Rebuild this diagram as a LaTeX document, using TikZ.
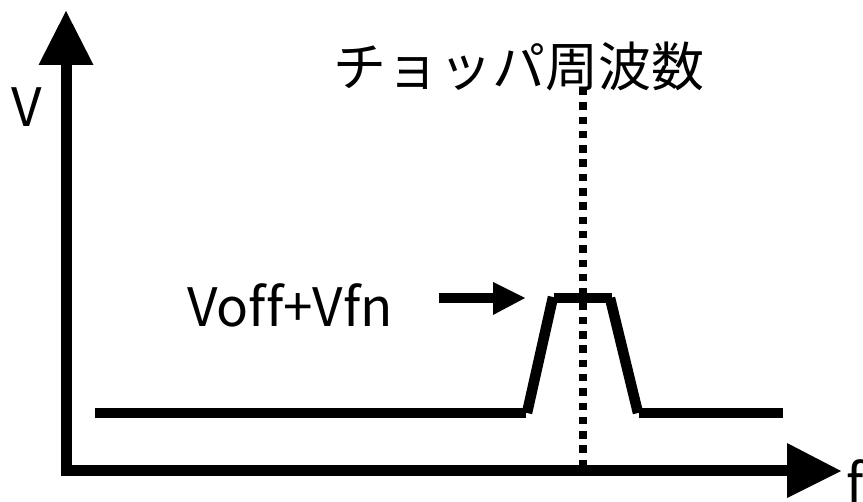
\documentclass[tikz,border=0pt]{standalone}
\usepackage{fontspec}
\setmainfont[Ligatures=CommonOff]{Noto Sans CJK JP}
\begin{document}
\begin{tikzpicture}[x=1pt,y=-1pt,
  heavy/.style={line width=10.5pt,line cap=butt},
  headfill/.style={fill=black,draw=none},
  lbl/.style={inner sep=0pt,anchor=base west,font=\fontsize{53}{60}\selectfont},
  dotline/.style={line width=8pt,dash pattern=on 7.5pt off 6.8pt}]
\useasboundingbox (0,0) rectangle (863,502);
% axes
\coordinate (yb) at (66.5,475);
\coordinate (yt) at (66.5,64);
\coordinate (xl) at (61,470.5);
\coordinate (xr) at (788,470.5);
\draw[heavy] (yb) -- (yt);
\draw[heavy] (xl) -- (xr);
\fill[headfill] (38.5,65) -- (66,11) -- (93.5,65) -- cycle;
\fill[headfill] (787,443) -- (841,471) -- (787,498) -- cycle;
% dotted chopper line
\coordinate (dt) at (583,88);
\coordinate (db) at (583,466);
\draw[dotline] (dt) -- (db);
% spectrum
\coordinate (p1) at (95,413);
\coordinate (p2) at (526,413);
\coordinate (p3) at (527,413);
\coordinate (p4) at (553,297);
\coordinate (p5) at (554,298);
\coordinate (p6) at (612,298);
\coordinate (p7) at (610,298);
\coordinate (p8) at (638,413);
\coordinate (p9) at (639,413);
\coordinate (p10) at (783,413);
\draw[heavy] (p1) -- (p2);
\draw[heavy] (p3) -- (p4);
\draw[heavy] (p5) -- (p6);
\draw[heavy] (p7) -- (p8);
\draw[heavy] (p9) -- (p10);
% Voff arrow
\coordinate (as) at (439,298);
\coordinate (ae) at (495,298);
\draw[heavy] (as) -- (ae);
\fill[headfill] (493,282) -- (525,298) -- (493,315) -- cycle;
% labels
\node[lbl] (title) at (333,87) {チョッパ周波数};
\node[lbl] (vl) at (11,127) {V};
\node[lbl] (fl) at (846,503) {f};
\node[lbl] (voff) at (187,327) {Vof{}f+Vfn};
\end{tikzpicture}
\end{document}
